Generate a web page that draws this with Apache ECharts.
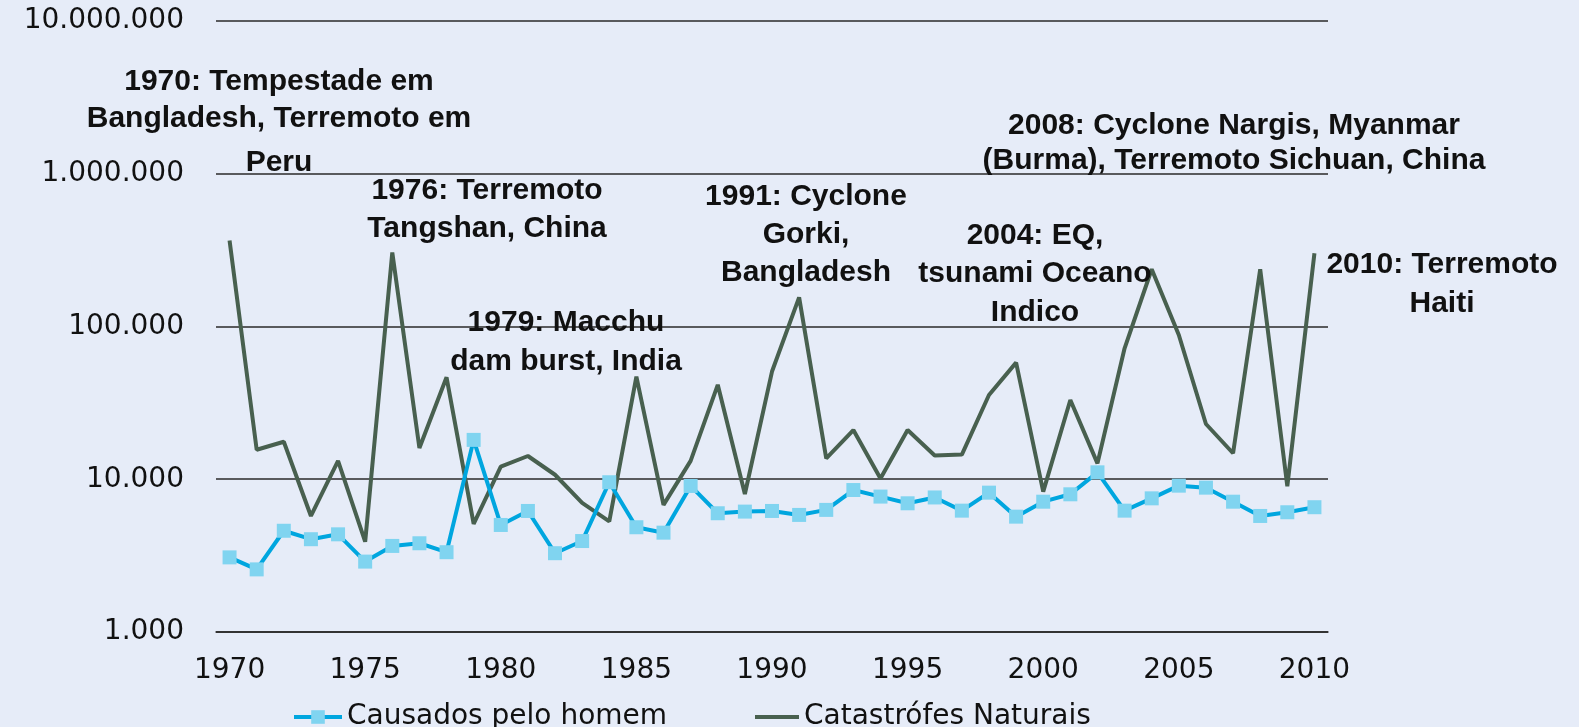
<!DOCTYPE html>
<html>
<head>
<meta charset="utf-8">
<script src="https://cdn.jsdelivr.net/npm/echarts@6/dist/echarts.min.js"></script>
<style>
html,body{margin:0;padding:0;background:#e6ecf8;}
#chart{width:1579px;height:727px;}
</style>
</head>
<body>
<div id="chart"></div>
<script>
const years = ['1970','1971','1972','1973','1974','1975','1976','1977','1978','1979',
  '1980','1981','1982','1983','1984','1985','1986','1987','1988','1989',
  '1990','1991','1992','1993','1994','1995','1996','1997','1998','1999',
  '2000','2001','2002','2003','2004','2005','2006','2007','2008','2009','2010'];

const causadosPeloHomem = [3080,2570,4600,4050,4360,2890,3660,3810,3330,18100,
  5020,6200,3280,3940,9560,4850,4470,9040,5990,6140,
  6200,5840,6300,8500,7700,6960,7600,6230,8170,5690,
  7130,7970,11100,6230,7500,9080,8810,7130,5750,6080,6560];

const catastrofesNaturais = [365000,15600,17600,5750,13200,3900,305000,16000,46500,5100,
  12100,14200,10700,7000,5300,47000,6800,13200,41500,8000,
  50700,155000,13700,21000,10100,21000,14300,14500,35600,58000,
  8300,33000,12700,72000,237000,88000,23000,14800,237000,9000,302000];

const seriesNames = ['Causados pelo homem','Catastrófes Naturais'];
const yTickLabels = ['1.000','10.000','100.000','1.000.000','10.000.000'];

const annotations = [
  {x:279, lines:[['1970: Tempestade em',82],['Bangladesh, Terremoto em',119],['Peru',163]]},
  {x:487, lines:[['1976: Terremoto',191],['Tangshan, China',229]]},
  {x:566, lines:[['1979: Macchu',323],['dam burst, India',362]]},
  {x:806, lines:[['1991: Cyclone',197],['Gorki,',235],['Bangladesh',273]]},
  {x:1035, lines:[['2004: EQ,',236],['tsunami Oceano',274],['Indico',313]]},
  {x:1234, lines:[['2008: Cyclone Nargis, Myanmar',126],['(Burma), Terremoto Sichuan, China',161]]},
  {x:1442, lines:[['2010: Terremoto',265],['Haiti',304]]}
];

const axisFont = {fontFamily:'DejaVu Sans', fontSize:28, color:'#111111'};
const graphics = [];
annotations.forEach(a => a.lines.forEach(l => graphics.push({
  type:'text', x:a.x, y:l[1], z:100,
  style:{text:l[0], x:0, y:0, textAlign:'center', textVerticalAlign:'middle',
    font:'bold 30px "Liberation Sans"', fill:'#111111'}
})));

const chart = echarts.init(document.getElementById('chart'), null, {renderer:'canvas'});
chart.setOption({
  backgroundColor:'#e6ecf8',
  animation:false,
  grid:{left:216, right:251, top:21, bottom:95, containLabel:false},
  legend:[
    {data:[seriesNames[0]], left:287, top:698, itemWidth:48, itemHeight:17,
      lineStyle:{width:4, color:'#00a6df'},
      itemStyle:{color:'#80d4f0', borderWidth:0},
      textStyle:Object.assign({}, axisFont)},
    {data:[{name:seriesNames[1], icon:'rect'}], left:750, top:698, itemWidth:44, itemHeight:4,
      itemStyle:{color:'#48604f', borderWidth:0},
      textStyle:Object.assign({}, axisFont)}
  ],
  xAxis:[
    {type:'category', data:years, boundaryGap:true,
      axisLine:{lineStyle:{color:'#333333', width:1.5}},
      axisTick:{inside:true, interval:1, length:9, lineStyle:{color:'#333333', width:1.5}},
      axisLabel:Object.assign({interval:4, margin:25}, axisFont),
      splitLine:{show:false}},
    {type:'category', data:years, boundaryGap:true, position:'bottom',
      axisLine:{show:false},
      axisTick:{inside:true, interval:0, length:5, lineStyle:{color:'#333333', width:1.5}},
      axisLabel:{show:false}, splitLine:{show:false}}
  ],
  yAxis:{type:'log', logBase:10, min:1000, max:10000000,
    axisLine:{show:false}, axisTick:{show:false},
    axisLabel:Object.assign({margin:32, formatter:v => yTickLabels[Math.round(Math.log10(v))-3] || ''}, axisFont),
    splitLine:{lineStyle:{color:'#2a2a2a', width:1.5}}},
  series:[
    {name:seriesNames[0], type:'line', data:causadosPeloHomem,
      symbol:'rect', symbolSize:14, showAllSymbol:true,
      lineStyle:{color:'#00a6df', width:4},
      itemStyle:{color:'#80d4f0', borderWidth:0}, z:3},
    {name:seriesNames[1], type:'line', data:catastrofesNaturais,
      symbol:'none', lineStyle:{color:'#48604f', width:4},
      itemStyle:{color:'#48604f'}, z:2}
  ],
  graphic:graphics
});
</script>
</body>
</html>
